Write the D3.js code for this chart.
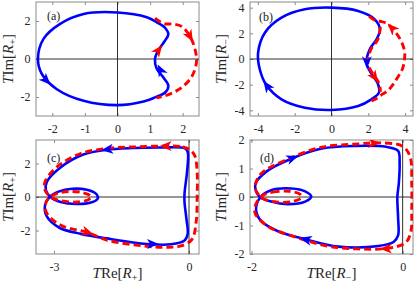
<!DOCTYPE html>
<html>
<head>
<meta charset="utf-8">
<script src="https://cdn.jsdelivr.net/npm/d3@7"></script>
<style>
  body { margin: 0; background: #fff; }
  svg { display: block; font-family: "Liberation Serif", "Times New Roman", serif; }
</style>
</head>
<body>
<svg id="chart" width="416" height="283"></svg>
<script>
// tick values of each panel
let xTicksA = [-2, -1, 0, 1, 2], yTicksA = [-2, 0, 2];
let xTicksB = [-4, -2, 0, 2, 4], yTicksB = [-4, -2, 0, 2, 4];
let xTicksC = [-3, 0], yTicksC = [-2, 0, 2];
let xTicksD = [-2, 0], yTicksD = [-2, -1, 0, 1, 2];

// curves as [TRe, TIm] points
let blueA = [[0, 2.45], [-1.04, 2.37], [-1.76, 1.85], [-2.27, 1.06], [-2.44, 0], [-2.32, -0.79], [-1.86, -1.59],
  [-1.04, -2.2], [0, -2.43], [0.8, -2.24], [1.15, -2.02], [1.47, -1.75], [1.56, -1.4], [1.42, -1.0], [1.2, -0.5],
  [1.15, 0], [1.25, 0.45], [1.45, 0.95], [1.56, 1.3], [1.47, 1.62], [1.22, 1.92], [0.9, 2.2]];
let redA = [[1.15, 2.15], [1.42, 1.86], [1.7, 1.84], [1.98, 1.7], [2.22, 1.2], [2.38, 0.5], [2.42, -0.2],
  [2.27, -0.95], [1.97, -1.5], [1.6, -1.85], [1.2, -2.05]];

let blueB = [[0, 4.0], [-1.45, 3.87], [-2.72, 3.22], [-3.62, 2.05], [-3.99, 0.5], [-3.9, -0.8], [-3.53, -2.05],
  [-2.72, -3.14], [-1.45, -3.79], [0, -3.97], [1.45, -3.66], [2.17, -3.14], [2.58, -2.62], [2.53, -1.97],
  [2.08, -0.93], [1.9, -0.28], [2.08, 0.76], [2.45, 1.53], [2.63, 2.31], [2.35, 3.09], [1.45, 3.74]];
let redB = [[2.05, 3.32], [2.4, 2.98], [2.7, 2.92], [3.0, 2.78], [3.26, 2.45], [3.5, 2.05], [3.8, 1.35], [3.98, 0.5],
  [3.95, -0.2], [3.85, -0.8], [3.65, -1.3], [3.35, -1.97], [3.08, -2.45], [2.79, -2.72], [2.53, -3.0], [2.17, -3.27]];
let redIndentB = [[2.66, 2.5], [2.52, 1.53], [2.15, 0.76], [1.97, -0.28], [2.15, -0.93], [2.42, -1.5], [2.6, -1.97],
  [2.66, -2.55]];

let blueC = [[-0.09, 2.9], [-0.64, 2.95], [-1.24, 2.92], [-1.83, 2.82], [-2.35, 2.53], [-2.87, 1.73], [-3.16, 0.9],
  [-3.18, 0.4], [-3.08, 0.0], [-2.85, -0.3], [-2.5, -0.42], [-2.2, -0.35], [-2.03, -0.1], [-2.05, 0.15],
  [-2.27, 0.43], [-2.6, 0.49], [-2.9, 0.32], [-3.1, 0.0], [-3.2, -0.5], [-3.16, -1.16], [-2.87, -1.85],
  [-2.4, -2.2], [-1.83, -2.47], [-0.94, -2.8], [-0.4, -2.82], [-0.1, -2.6], [-0.03, -2.2], [-0.06, -1.25],
  [-0.1, -0.3], [-0.1, 0.2], [-0.05, 1.33], [-0.02, 2.33], [-0.03, 2.7]];
let redC = [[0.02, 2.82], [-0.2, 3.02], [-0.53, 3.04], [-1.2, 2.99], [-1.76, 2.92], [-2.42, 2.58], [-2.94, 1.78],
  [-3.2, 0.9], [-3.2, 0.4], [-3.07, 0.0], [-2.85, -0.22], [-2.5, -0.3], [-2.25, -0.18], [-2.17, 0.02],
  [-2.35, 0.25], [-2.65, 0.33], [-2.92, 0.22], [-3.1, -0.02], [-3.2, -0.5], [-3.14, -1.06], [-2.82, -1.72],
  [-2.24, -2.12], [-1.83, -2.57], [-0.94, -2.94], [-0.5, -3.0], [-0.2, -2.93], [0.06, -2.55], [0.16, -1.46],
  [0.18, -0.06], [0.18, 1.53], [0.13, 2.45]];

let blueD = [[-1.88, 0.0], [-1.74, 0.24], [-1.47, 0.3], [-1.29, 0.2], [-1.21, 0.02], [-1.29, -0.16], [-1.52, -0.25],
  [-1.74, -0.16], [-1.9, 0.02], [-1.95, 0.45], [-1.8, 0.9], [-1.45, 1.37], [-1.07, 1.7], [-0.63, 1.79],
  [-0.22, 1.76], [-0.06, 1.62], [-0.04, 1.2], [-0.05, 0.5], [-0.07, 0.0], [-0.06, -0.74], [-0.06, -1.35],
  [-0.12, -1.58], [-0.32, -1.72], [-0.85, -1.74], [-1.29, -1.48], [-1.65, -1.2], [-1.87, -0.85], [-1.94, -0.45]];
let redD = [[-1.88, 0.0], [-1.72, 0.17], [-1.5, 0.2], [-1.36, 0.1], [-1.34, -0.02], [-1.45, -0.15], [-1.65, -0.18],
  [-1.85, -0.05], [-1.95, 0.3], [-1.88, 0.8], [-1.5, 1.35], [-1.07, 1.75], [-0.6, 1.86], [-0.3, 1.9], [0.0, 1.78],
  [0.1, 1.4], [0.12, 0.5], [0.12, -0.5], [0.11, -1.2], [0.04, -1.6], [-0.2, -1.8], [-0.6, -1.82], [-1.0, -1.72],
  [-1.4, -1.42], [-1.8, -1.0], [-1.96, -0.5]];

// arrow heads: [TRe, TIm, dRe, dIm] (position and direction of travel)
let blueArrowsA = [[-2.17, -1.15, 0.46, -0.8], [1.31, -0.55, -0.15, 0.5]];
let redArrowsA = [[1.27, 0.5, 0.2, 0.45], [2.23, 1.16, 0.25, -0.75]];
let blueArrowsB = [[-3.53, -2.05, -0.5, 1], [1.92, -0.3, 0, -1]];
let redArrowsB = [[3.26, 2.45, -0.5, 0.73], [2.36, -1.45, 0.27, -0.57]];
let blueArrowsC = [[-1.83, 2.83, -1, -0.3], [-0.79, -2.8, 1, 0]];
let redArrowsC = [[-0.53, 3.04, -1, 0], [-2.24, -2.12, 1, -0.86]];
let blueArrowsD = [[-1.45, 1.37, 0.8, 0.75], [-1.29, -1.48, -0.8, 0.55]];
let redArrowsD = [[-0.37, 1.89, 1, -0.05], [-0.23, -1.81, -1, -0.05]];

let panelW = 163, panelH = 114;
let blue = '#0000ff', red = '#ff0000';

let svg = d3.select('#chart');

let panels = [
  { name: '(a)', left: 36, top: 2, xd: [-2.5, 2.5], yd: [-3, 3], xt: xTicksA, yt: yTicksA,
    blue: blueA, red: [{ pts: redA, closed: false }], ba: blueArrowsA, ra: redArrowsA,
    sub: '+', xlabel: false, tag: [47, 20], ylabX: 12.5, ylabY: 59 },
  { name: '(b)', left: 250, top: 2, xd: [-4.43, 4.43], yd: [-4.44, 4.44], xt: xTicksB, yt: yTicksB,
    blue: blueB, red: [{ pts: redB, closed: false }, { pts: redIndentB, closed: false }], ba: blueArrowsB, ra: redArrowsB,
    sub: '\u2212', xlabel: false, tag: [259, 21], ylabX: 225.5, ylabY: 59 },
  { name: '(c)', left: 36, top: 140, xd: [-3.4, 0.222], yd: [-3.4, 3.4], xt: xTicksC, yt: yTicksC,
    blue: blueC, red: [{ pts: redC, closed: true }], ba: blueArrowsC, ra: redArrowsC,
    sub: '+', xlabel: true, tag: [47, 162], ylabX: 12.5, ylabY: 197 },
  { name: '(d)', left: 250, top: 140, xd: [-2.02, 0.137], yd: [-2, 2], xt: xTicksD, yt: yTicksD,
    blue: blueD, red: [{ pts: redD, closed: true }], ba: blueArrowsD, ra: redArrowsD,
    sub: '\u2212', xlabel: true, tag: [260, 162], ylabX: 225.5, ylabY: 197 }
];

// T Im[R_+] style label built from tspans
function axisLabel(g, part, sub) {
  let t = g.append('text').attr('font-size', 15).attr('text-anchor', 'middle').attr('fill', '#262626');
  t.append('tspan').attr('font-style', 'italic').text('T');
  t.append('tspan').text(part + '[');
  t.append('tspan').attr('font-style', 'italic').text('R');
  t.append('tspan').attr('font-size', 10).attr('dy', 3).text(sub);
  t.append('tspan').attr('dy', -3).text(']');
  return t;
}

function arrowHead(g, a, x, y, color) {
  let eps = 0.05;
  let ang = Math.atan2(y(a[1] + a[3] * eps) - y(a[1]), x(a[0] + a[2] * eps) - x(a[0])) * 180 / Math.PI;
  g.append('path')
    .attr('d', 'M5.5,0 L-6.5,-5 L-3.2,0 L-6.5,5 Z')
    .attr('fill', color)
    .attr('transform', 'translate(' + x(a[0]) + ',' + y(a[1]) + ') rotate(' + ang + ')');
}

function drawPanel(p, i) {
  let x = d3.scaleLinear().domain(p.xd).range([p.left, p.left + panelW]);
  let y = d3.scaleLinear().domain(p.yd).range([p.top + panelH, p.top]);
  let g = svg.append('g');

  g.append('clipPath').attr('id', 'clip' + i)
    .append('rect').attr('x', p.left).attr('y', p.top).attr('width', panelW).attr('height', panelH);

  // axes with inward ticks on all four sides
  let axes = [
    [d3.axisBottom(x).tickValues(p.xt).tickPadding(8), 'translate(0,' + (p.top + panelH) + ')', true],
    [d3.axisLeft(y).tickValues(p.yt).tickPadding(5.5), 'translate(' + p.left + ',0)', true],
    [d3.axisTop(x).tickValues(p.xt), 'translate(0,' + p.top + ')', false],
    [d3.axisRight(y).tickValues(p.yt), 'translate(' + (p.left + panelW) + ',0)', false]
  ];
  axes.forEach(function (a) {
    a[0].tickSizeInner(-3).tickSizeOuter(0).tickFormat(a[2] ? function (d) { return String(d); } : '');
    let ag = g.append('g').attr('transform', a[1]).call(a[0])
      .attr('font-family', null).attr('font-size', 12);
    ag.select('.domain').remove();
    ag.selectAll('line').attr('stroke', '#8a8a8a');
    ag.selectAll('text').attr('fill', '#262626');
  });

  g.append('rect')
    .attr('x', p.left).attr('y', p.top).attr('width', panelW).attr('height', panelH)
    .attr('fill', 'none').attr('stroke', '#8a8a8a').attr('stroke-width', 1);

  // zero lines
  g.append('line').attr('x1', p.left).attr('x2', p.left + panelW).attr('y1', y(0)).attr('y2', y(0))
    .attr('stroke', '#1a1a1a').attr('stroke-width', 0.9);
  g.append('line').attr('x1', x(0)).attr('x2', x(0)).attr('y1', p.top).attr('y2', p.top + panelH)
    .attr('stroke', '#1a1a1a').attr('stroke-width', 0.9);

  let plot = g.append('g').attr('clip-path', 'url(#clip' + i + ')');
  let closedLine = d3.line().x(function (d) { return x(d[0]); }).y(function (d) { return y(d[1]); })
    .curve(d3.curveCatmullRomClosed.alpha(0.5));
  let openLine = d3.line().x(function (d) { return x(d[0]); }).y(function (d) { return y(d[1]); })
    .curve(d3.curveCatmullRom.alpha(0.5));

  plot.append('path').attr('d', closedLine(p.blue))
    .attr('fill', 'none').attr('stroke', blue).attr('stroke-width', 2.6);

  p.red.forEach(function (r) {
    plot.append('path').attr('d', (r.closed ? closedLine : openLine)(r.pts))
      .attr('fill', 'none').attr('stroke', red).attr('stroke-width', 2.9)
      .attr('stroke-dasharray', '7,4');
  });

  p.ba.forEach(function (a) { arrowHead(plot, a, x, y, blue); });
  p.ra.forEach(function (a) { arrowHead(plot, a, x, y, red); });

  g.append('text').attr('x', p.tag[0]).attr('y', p.tag[1]).attr('font-size', 12).attr('fill', '#1a1a1a').text(p.name);

  axisLabel(g, 'Im', p.sub)
    .attr('transform', 'translate(' + p.ylabX + ',' + p.ylabY + ') rotate(-90)');
  if (p.xlabel) {
    axisLabel(g, 'Re', p.sub)
      .attr('transform', 'translate(' + (p.left + panelW / 2) + ',278)');
  }
}

panels.forEach(drawPanel);
</script>
</body>
</html>
